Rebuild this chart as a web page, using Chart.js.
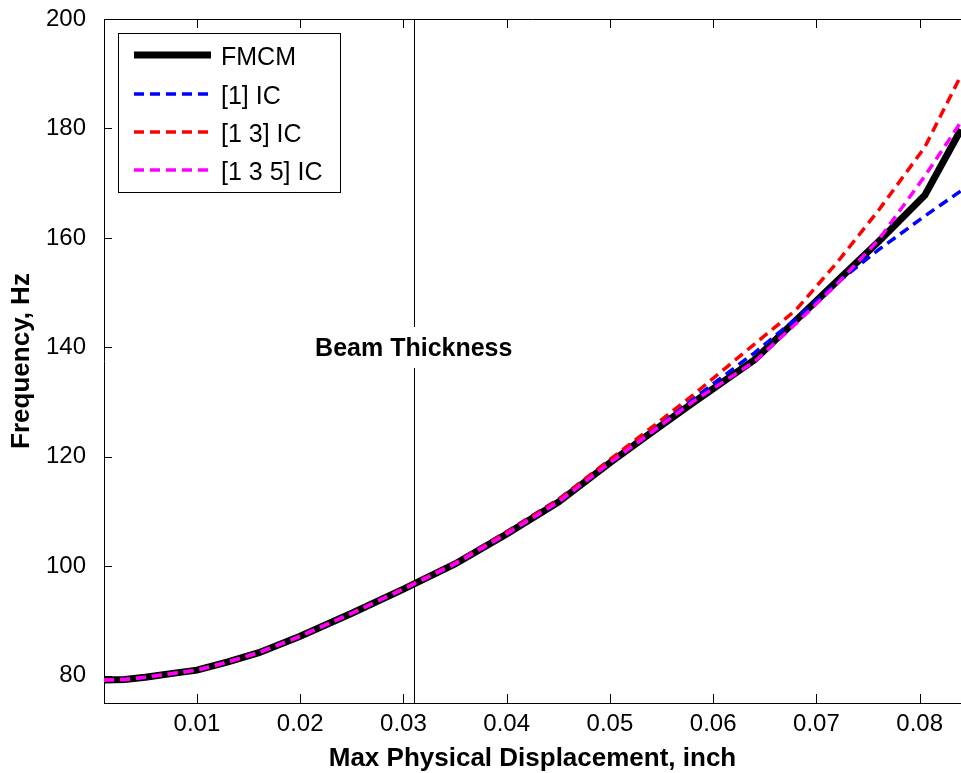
<!DOCTYPE html>
<html>
<head>
<meta charset="utf-8">
<script src="https://cdn.jsdelivr.net/npm/chart.js@4/dist/chart.umd.min.js"></script>
<style>
  html, body { margin: 0; padding: 0; background: #fff; }
  #wrap { width: 961px; height: 773px; }
</style>
</head>
<body>
<div id="wrap"><canvas id="chart" width="961" height="773"></canvas></div>
<script>
// max physical displacement (inch) shared by every curve
const displacement = [0.001, 0.003, 0.005, 0.008, 0.010, 0.013, 0.016, 0.020, 0.025, 0.030, 0.035,
  0.040, 0.045, 0.050, 0.054, 0.058, 0.064, 0.068, 0.072, 0.076, 0.0805, 0.084];

// frequency, Hz
const fmcm = [79.2, 79.3, 79.7, 80.5, 81.0, 82.5, 84.2, 87.2, 91.4, 95.8, 100.4,
  105.9, 111.7, 118.9, 124.4, 129.8, 137.7, 144.9, 152.1, 159.3, 167.8, 179.8];
const ic1 = [79.2, 79.3, 79.7, 80.5, 81.0, 82.5, 84.2, 87.2, 91.4, 95.9, 100.7,
  106.3, 112.2, 119.4, 124.9, 130.5, 139.0, 145.2, 151.8, 157.8, 164.0, 168.6];
const ic13 = [79.2, 79.3, 79.7, 80.5, 81.0, 82.5, 84.2, 87.2, 91.4, 95.9, 100.6,
  106.2, 112.1, 119.5, 125.3, 131.2, 140.6, 146.8, 155.5, 165.0, 176.6, 189.7];
const ic135 = [79.2, 79.3, 79.7, 80.5, 81.0, 82.5, 84.2, 87.2, 91.4, 95.8, 100.4,
  105.9, 111.7, 118.9, 124.4, 130.0, 137.4, 144.3, 151.6, 159.6, 171.3, 181.2];

const xTicks = [0.01, 0.02, 0.03, 0.04, 0.05, 0.06, 0.07, 0.08];
const yTicks = [80, 100, 120, 140, 160, 180, 200];
const beamThickness = 0.031;

const FONT = "'Liberation Sans', Arial, sans-serif";

function points(values) {
  return displacement.map((x, i) => ({ x: x, y: values[i] }));
}

// matlab-ish frame: inward ticks, top edge, thickness marker, boxed legend
const frameAndNotes = {
  id: "frameAndNotes",
  beforeDatasetsDraw(chart) {
    const { ctx, chartArea: a, scales: { x } } = chart;
    const px = Math.round(x.getPixelForValue(beamThickness)) + 0.5;
    ctx.save();
    ctx.strokeStyle = "#000";
    ctx.lineWidth = 1;
    ctx.beginPath();
    ctx.moveTo(px, a.top);
    ctx.lineTo(px, a.bottom);
    ctx.stroke();
    ctx.restore();
  },
  afterDatasetsDraw(chart) {
    const { ctx, chartArea: a, scales: { x, y } } = chart;
    ctx.save();
    ctx.strokeStyle = "#000";
    ctx.lineWidth = 1;
    ctx.beginPath();
    ctx.moveTo(a.left, a.top + 0.5);
    ctx.lineTo(a.right, a.top + 0.5);
    x.ticks.forEach((t) => {
      const p = Math.round(x.getPixelForValue(t.value)) + 0.5;
      ctx.moveTo(p, a.bottom);
      ctx.lineTo(p, a.bottom - 9);
      ctx.moveTo(p, a.top);
      ctx.lineTo(p, a.top + 9);
    });
    y.ticks.forEach((t) => {
      const p = Math.round(y.getPixelForValue(t.value)) + 0.5;
      ctx.moveTo(a.left, p);
      ctx.lineTo(a.left + 8, p);
    });
    ctx.stroke();

    // Beam Thickness label sits on the marker line with a white background
    const px = x.getPixelForValue(beamThickness);
    ctx.font = "bold 25px " + FONT;
    const w = ctx.measureText("Beam Thickness").width;
    ctx.fillStyle = "#fff";
    ctx.fillRect(px - w / 2 - 3, 327, w + 6, 41);
    ctx.fillStyle = "#000";
    ctx.textAlign = "center";
    ctx.textBaseline = "alphabetic";
    ctx.fillText("Beam Thickness", px, 356);

    // legend
    ctx.fillStyle = "#fff";
    ctx.fillRect(118.5, 33.5, 222, 159);
    ctx.strokeRect(118.5, 33.5, 222, 159);
    const baselines = [65, 104, 142, 180];
    ctx.font = "25px " + FONT;
    ctx.textAlign = "left";
    chart.data.datasets.forEach((ds, i) => {
      const ly = baselines[i] - 10;
      ctx.beginPath();
      ctx.strokeStyle = ds.borderColor;
      ctx.lineWidth = ds.borderWidth;
      ctx.setLineDash(ds.borderDash || []);
      ctx.moveTo(134, ly);
      ctx.lineTo(211, ly);
      ctx.stroke();
      ctx.setLineDash([]);
      ctx.fillStyle = "#000";
      ctx.fillText(ds.label, 221, baselines[i]);
    });
    ctx.restore();
  }
};

new Chart(document.getElementById("chart"), {
  type: "line",
  data: {
    datasets: [
      { label: "FMCM", data: points(fmcm), borderColor: "#000000", borderWidth: 7, order: 4 },
      { label: "[1] IC", data: points(ic1), borderColor: "#0000ff", borderWidth: 3.5, borderDash: [10, 6], order: 3 },
      { label: "[1 3] IC", data: points(ic13), borderColor: "#ff0000", borderWidth: 3.5, borderDash: [10, 6], order: 2 },
      { label: "[1 3 5] IC", data: points(ic135), borderColor: "#ff00ff", borderWidth: 3.5, borderDash: [10, 6], order: 1 }
    ]
  },
  options: {
    responsive: false,
    animation: false,
    devicePixelRatio: 1,
    layout: { padding: { top: 19, right: 0, left: 0, bottom: 0 } },
    elements: { point: { radius: 0 }, line: { tension: 0 } },
    plugins: { legend: { display: false }, tooltip: { enabled: false } },
    scales: {
      x: {
        type: "linear",
        min: 0.001,
        max: 0.084,
        afterFit: (s) => { s.height = 70; s.paddingLeft = 0; s.paddingRight = 0; },
        afterBuildTicks: (s) => { s.ticks = xTicks.map((v) => ({ value: v })); },
        grid: { display: false, drawTicks: false },
        border: { display: true, color: "#000", width: 1 },
        ticks: {
          color: "#000",
          padding: 7,
          maxRotation: 0,
          font: { family: FONT, size: 24 },
          callback: (v) => Number(v).toFixed(2)
        },
        title: {
          display: true,
          text: "Max Physical Displacement, inch",
          color: "#000",
          padding: { top: 0, bottom: 2 },
          font: { family: FONT, size: 26, weight: "bold", lineHeight: 0.9 }
        }
      },
      y: {
        min: 75,
        max: 200,
        afterFit: (s) => { s.width = 104; s.paddingTop = 0; s.paddingBottom = 0; },
        afterBuildTicks: (s) => { s.ticks = yTicks.map((v) => ({ value: v })); },
        grid: { display: false, drawTicks: false },
        border: { display: true, color: "#000", width: 1 },
        ticks: {
          color: "#000",
          padding: 18,
          font: { family: FONT, size: 24 }
        },
        title: {
          display: true,
          text: "Frequency, Hz",
          color: "#000",
          padding: { top: 10, bottom: 0 },
          font: { family: FONT, size: 26, weight: "bold", lineHeight: 0.9 }
        }
      }
    }
  },
  plugins: [frameAndNotes]
});
</script>
</body>
</html>
